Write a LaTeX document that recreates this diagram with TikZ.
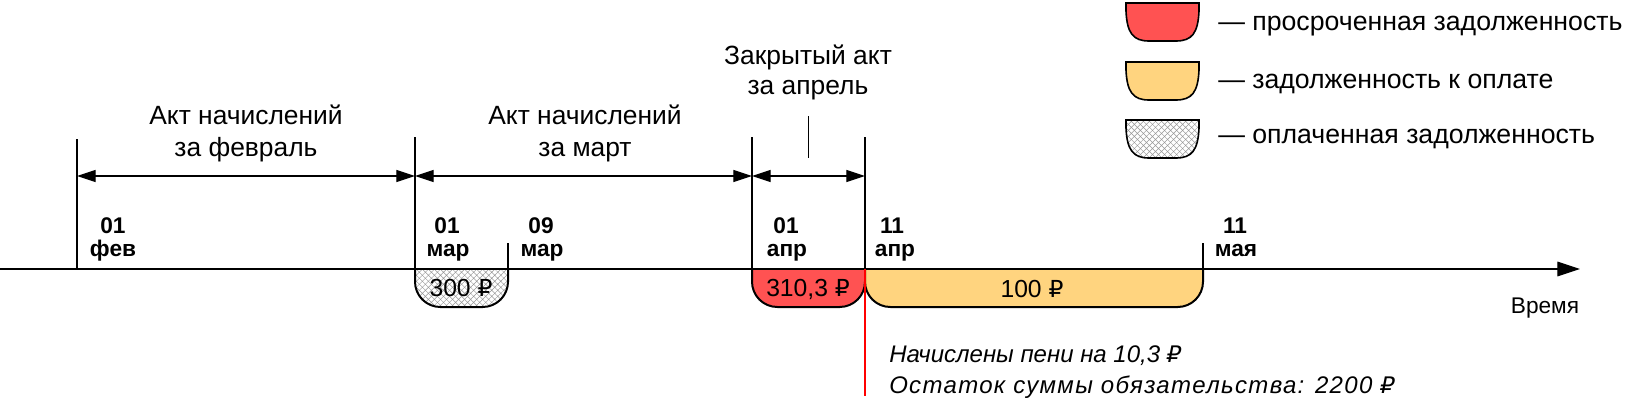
\documentclass[tikz,border=0pt]{standalone}
\usepackage{fontspec}
\setmainfont{Liberation Sans}
\newfontfamily\notewide{Liberation Sans}[LetterSpace=5.5]
\newfontfamily\rubfont{DejaVu Sans}[Scale=0.95,ItalicFont={DejaVu Sans Oblique},BoldFont={DejaVu Sans Bold}]
\newcommand{\rub}{{\rubfont ₽}}
\usetikzlibrary{arrows.meta,patterns.meta}
\definecolor{overdue}{HTML}{FF5252}
\definecolor{topay}{HTML}{FFD47F}
\begin{document}
\begin{tikzpicture}[x=0.75pt,y=-0.75pt,
  hdr/.style={font=\fontsize{19.8}{23}\selectfont, inner sep=0pt, anchor=base},
  datelbl/.style={font=\bfseries\fontsize{17}{20}\selectfont, inner sep=0pt, anchor=base},
  amt/.style={font=\fontsize{18.5}{22}\selectfont, inner sep=0pt, anchor=base},
  leg/.style={font=\fontsize{20}{24}\selectfont, inner sep=0pt, anchor=base west},
  note/.style={font=\itshape\fontsize{18}{21}\selectfont, inner sep=0pt, anchor=base west},
  tick/.style={line width=1.1pt},
  dim/.style={{Triangle[length=14pt,width=9pt]}-{Triangle[length=14pt,width=9pt]}, line width=0.9pt},
  bowl/.style={line width=1.5pt},
  hatchfill/.style={pattern={Hatch[angle=45,distance=3.2pt,line width=0.35pt]}, pattern color=gray!80}
]
\useasboundingbox (0,0) rectangle (1638,414);

% timeline
\coordinate (t0) at (0,269);
\coordinate (tend) at (1580,269);
\draw[line width=0.8pt, -{Triangle[length=17pt,width=11pt]}] (t0) -- (tend);
\node[amt, font=\fontsize{17}{20}\selectfont] (vremya) at (1545,313) {Время};

% ticks (top and base points)
\coordinate (feb) at (77,139);   \coordinate (febb) at (77,269);
\coordinate (mar) at (415,137);  \coordinate (marb) at (415,269);
\coordinate (mar9) at (508,243); \coordinate (mar9b) at (508,269);
\coordinate (apr) at (752,137);  \coordinate (aprb) at (752,269);
\coordinate (apr11) at (865,137);\coordinate (apr11b) at (865,269);
\coordinate (may) at (1203,243); \coordinate (mayb) at (1203,269);
\coordinate (redend) at (865,396);

\draw[tick] (feb) -- (febb);
\draw[tick] (mar) -- (marb);
\draw[tick] (mar9) -- (mar9b);
\draw[tick] (apr) -- (aprb);
\draw[tick] (apr11) -- (apr11b);
\draw[tick] (may) -- (mayb);

% dimension arrows
\coordinate (dfeb) at (77,176);
\coordinate (dmar) at (415,176);
\coordinate (dapr) at (752,176);
\coordinate (dapr11) at (865,176);
\draw[dim] (dfeb) -- (dmar);
\draw[dim] (dmar) -- (dapr);
\draw[dim] (dapr) -- (dapr11);
\coordinate (ct) at (808,116);
\coordinate (cb) at (808,158);
\draw[line width=0.6pt] (ct) -- (cb);

% headers
\node[hdr] (h1a) at (246,124) {Акт начислений};
\node[hdr] (h1b) at (246,156) {за февраль};
\node[hdr] (h2a) at (585,124) {Акт начислений};
\node[hdr] (h2b) at (585,156) {за март};
\node[hdr] (h3a) at (808,64) {Закрытый акт};
\node[hdr] (h3b) at (808,94) {за апрель};

% dates
\node[datelbl] (d1a) at (113,233) {01};
\node[datelbl] (d1b) at (113,256) {фев};
\node[datelbl] (d2a) at (447,233) {01};
\node[datelbl] (d2b) at (448,256) {мар};
\node[datelbl] (d3a) at (541,233) {09};
\node[datelbl] (d3b) at (542,256) {мар};
\node[datelbl] (d4a) at (786,233) {01};
\node[datelbl] (d4b) at (787,256) {апр};
\node[datelbl] (d5a) at (892,233) {11};
\node[datelbl] (d5b) at (895,256) {апр};
\node[datelbl] (d6a) at (1235,233) {11};
\node[datelbl] (d6b) at (1236,256) {мая};

% bowls on timeline
\path[fill=white] (415,269) [rounded corners=19pt] -- (415,307) -- (508,307) [sharp corners] -- (508,269) -- cycle;
\path[hatchfill] (415,269) [rounded corners=19pt] -- (415,307) -- (508,307) [sharp corners] -- (508,269) -- cycle;
\draw[bowl] (415,269) [rounded corners=19pt] -- (415,307) -- (508,307) [sharp corners] -- (508,269);
\draw[bowl] (415,269) -- (508,269);

\path[fill=overdue] (752,269) [rounded corners=19pt] -- (752,307) -- (865,307) [sharp corners] -- (865,269) -- cycle;
\draw[bowl] (752,269) [rounded corners=19pt] -- (752,307) -- (865,307) [sharp corners] -- (865,269);
\draw[bowl] (752,269) -- (865,269);

\path[fill=topay] (865,269) [rounded corners=19pt] -- (865,307) -- (1203,307) [sharp corners] -- (1203,269) -- cycle;
\draw[bowl] (865,269) [rounded corners=19pt] -- (865,307) -- (1203,307) [sharp corners] -- (1203,269);
\draw[bowl] (865,269) -- (1203,269);

\node[amt] (a1) at (461,296) {300 \rub};
\node[amt] (a2) at (808,296) {310,3 \rub};
\node[amt] (a3) at (1032,297) {100 \rub};

% red line
\draw[red, line width=1.3pt] (apr11b) -- (redend);

\node[note] (n1) at (889,362) {Начислены пени на 10,3 \rub};
\node[note, font=\notewide\itshape\fontsize{18}{21}\selectfont] (n2) at (889,393) {Остаток суммы обязательства: 2200 \rub};

% legend
\foreach \yy/\cc in {3/overdue, 62/topay, 120/white} {
  \path[fill=\cc] (1126,\yy) -- (1199,\yy) -- (1199,\yy+8) .. controls (1198,\yy+30) and (1192,\yy+38) .. (1176,\yy+38) -- (1149,\yy+38) .. controls (1133,\yy+38) and (1127,\yy+30) .. (1126,\yy+8) -- cycle;
}
\path[hatchfill] (1126,120) -- (1199,120) -- (1199,128) .. controls (1198,150) and (1192,158) .. (1176,158) -- (1149,158) .. controls (1133,158) and (1127,150) .. (1126,128) -- cycle;
\foreach \yy in {3,62,120} {
  \draw[line width=1.2pt] (1126,\yy) -- (1199,\yy) -- (1199,\yy+8) .. controls (1198,\yy+30) and (1192,\yy+38) .. (1176,\yy+38) -- (1149,\yy+38) .. controls (1133,\yy+38) and (1127,\yy+30) .. (1126,\yy+8) -- cycle;
}
\node[leg] (l1) at (1218,31) {— просроченная задолженность};
\node[leg] (l2) at (1218,88) {— задолженность к оплате};
\node[leg] (l3) at (1218,143) {— оплаченная задолженность};
\end{tikzpicture}
\end{document}
